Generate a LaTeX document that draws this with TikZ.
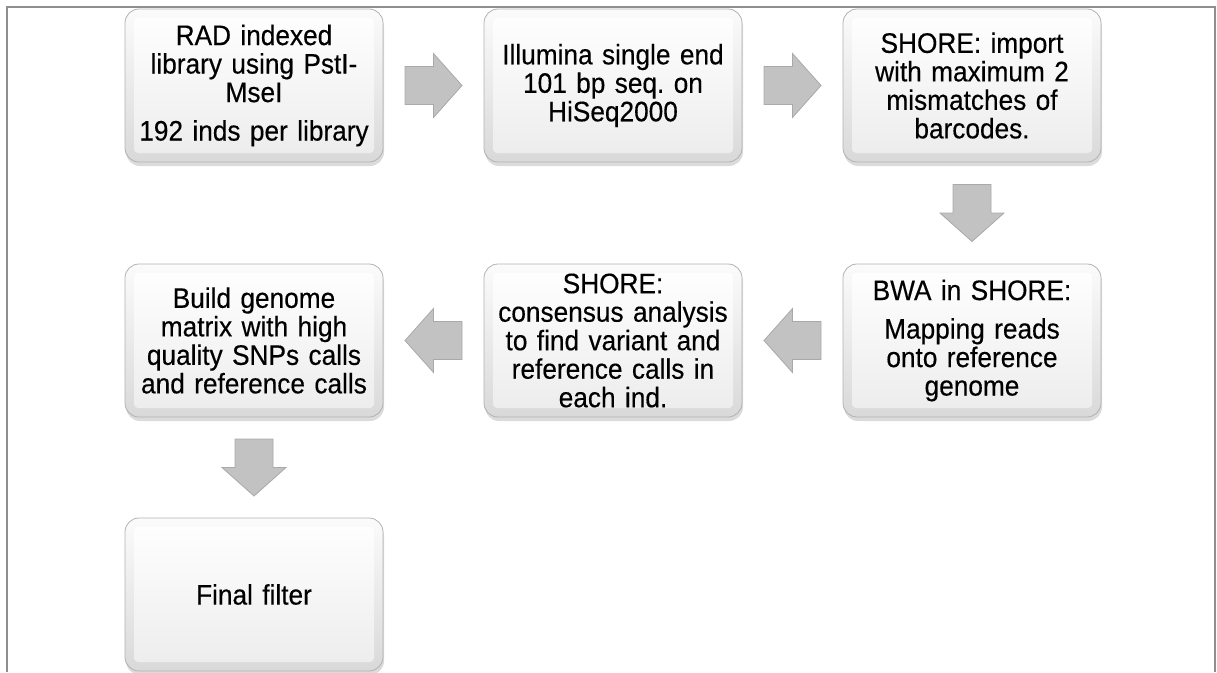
\documentclass[tikz,border=0pt]{standalone}
\usepackage{fontspec}
\setmainfont{Liberation Sans}
\newfontfamily\boxfont{Liberation Sans}[FakeStretch=0.93,FakeBold=0.35]
\usetikzlibrary{calc,shadows}
\definecolor{arrfill}{HTML}{C2C2C2}
\definecolor{arrdraw}{HTML}{A9A9A9}
\definecolor{framec}{HTML}{8E8E8E}
\frenchspacing
\begin{document}
\begin{tikzpicture}[x=1pt,y=-1pt,
  box/.style={rounded corners=14pt, minimum width=258pt, minimum height=153pt,
    draw=gray!60, line width=0.8pt, top color=gray!3, bottom color=gray!30,
    drop shadow={shadow xshift=1pt, shadow yshift=-4pt, opacity=0.35, fill=gray!80},
    align=center, text width=240pt, inner sep=0pt,
    font=\boxfont\fontsize{28.2}{28.5}\selectfont\frenchspacing,
    path picture={\shade[top color=white, bottom color=gray!15, rounded corners=4pt]
      ([shift={(9pt,-9pt)}]path picture bounding box.north west) rectangle
      ([shift={(-9pt,9pt)}]path picture bounding box.south east);}},
  rarr/.pic={\filldraw[fill=arrfill, draw=arrdraw, line width=0.8pt, line join=miter]
      (-28.5,-19) -- (0,-19) -- (0,-32) -- (28.5,0) -- (0,32) -- (0,19) -- (-28.5,19) -- cycle;},
  frameline/.style={draw=framec, line width=1.6pt}
]
\useasboundingbox (0,0) rectangle (1217,672);
\draw[frameline] (7,672) -- (7,7) -- (1215,7) -- (1215,672);

\node[box] (b1) at (254,85.5) {RAD indexed\\ library using PstI-\\ MseI\\[10pt] 192 inds per library};
\node[box] (b2) at (613,85.5) {Illumina single end\\ 101 bp seq.\ on\\ HiSeq2000};
\node[box] (b3) at (972,85.5) {SHORE: import\\ with maximum 2\\ mismatches of\\ barcodes.};
\node[box] (b5) at (972,340.5) {BWA in SHORE:\\[10pt] Mapping reads\\ onto reference\\ genome};
\node[box] (b4) at (613,340.5) {SHORE:\\ consensus analysis\\ to find variant and\\ reference calls in\\ each ind.};
\node[box] (b6) at (254,340.5) {Build genome\\ matrix with high\\ quality SNPs calls\\ and reference calls};
\node[box] (b7) at (254,594.5) {Final filter};

\pic at ($(b1.east)!0.5!(b2.west)$) {rarr};
\pic at ($(b2.east)!0.5!(b3.west)$) {rarr};
\pic[rotate=-90] at ($(b3.south)!0.5!(b5.north)$) {rarr};
\pic[rotate=180] at ($(b5.west)!0.5!(b4.east)$) {rarr};
\pic[rotate=180] at ($(b4.west)!0.5!(b6.east)$) {rarr};
\pic[rotate=-90] at ($(b6.south)!0.5!(b7.north)$) {rarr};
\end{tikzpicture}
\end{document}
